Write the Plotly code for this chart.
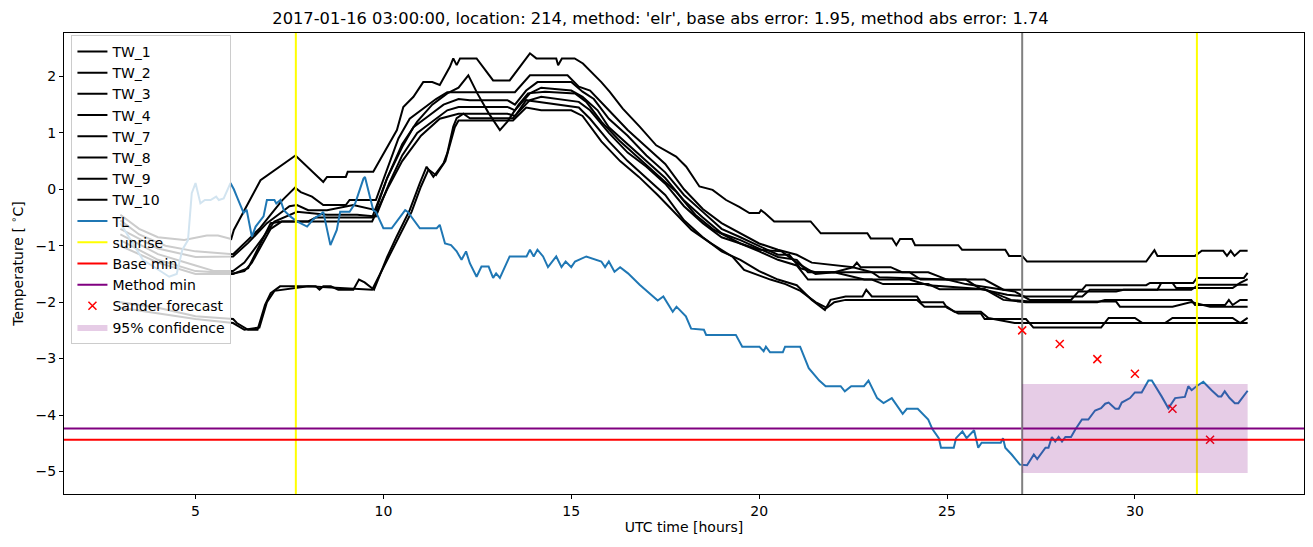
import plotly.graph_objects as go

# ---------------- data ----------------
TW_1 = [(3.0,-0.45),(3.5,-0.7),(4.0,-0.85),(4.7,-0.9),(5.3,-0.82),(5.6,-0.82),(5.95,-0.88),(6.02,-0.72),
        (6.73,0.16),(7.35,0.46),(7.66,0.6),(8.4,0.13),(8.5,0.22),(9.0,0.22),(9.05,0.31),(9.73,0.31),
        (10.36,1.05),(10.53,1.46),(10.8,1.64),(11.06,1.90),(11.3,1.90),(11.5,1.85),(11.77,2.17),(11.86,2.32),
        (11.95,2.2),(12.04,2.32),(12.48,2.32),(12.92,1.93),(13.36,1.93),(13.9,2.41),(14.07,2.32),(14.6,2.32),
        (14.65,2.2),(14.75,2.32),(15.09,2.32),(15.31,2.23),(15.8,1.90),(16.02,1.73),(16.37,1.43),(16.82,1.11),
        (17.26,0.78),(17.79,0.58),(18.06,0.40),(18.41,0.05),(18.76,-0.01),(19.12,-0.19),(19.47,-0.31),
        (19.74,-0.42),(20.0,-0.42),(20.05,-0.37),(20.15,-0.42),(20.4,-0.57),(21.37,-0.57),(21.64,-0.78),
        (22.88,-0.78),(22.97,-0.87),(23.54,-0.87),(23.65,-0.99),(23.75,-0.88),(24.07,-0.88),(24.15,-0.99),
        (25.3,-0.99),(25.4,-1.07),(26.55,-1.07),(26.65,-1.18),(27.0,-1.18),(27.13,-1.28),(30.3,-1.28),
        (30.45,-1.13),(30.52,-1.08),(30.6,-1.18),(31.6,-1.18),(31.78,-1.09),(32.35,-1.09),(32.45,-1.18),
        (32.55,-1.09),(32.65,-1.18),(32.8,-1.09),(33.0,-1.09)]
TW_2 = [(3.0,-0.55),(3.5,-0.8),(4.2,-1.0),(5.0,-1.1),(6.0,-1.15),(6.3,-0.95),(6.7,-0.7),(7.0,-0.45),
        (7.3,-0.2),(7.65,0.03),(7.8,-0.05),(8.1,-0.13),(8.4,-0.28),(9.0,-0.28),(9.1,-0.19),(9.8,-0.19),
        (10.1,0.35),(10.4,0.9),(10.7,1.25),(11.0,1.4),(11.4,1.6),(11.7,1.72),(13.5,1.72),(13.9,2.02),
        (14.9,2.02),(15.2,1.82),(15.5,1.75),(16.0,1.4),(16.5,1.05),(17.0,0.75),(17.5,0.45),(18.0,0.0),
        (18.5,-0.35),(19.0,-0.6),(19.5,-0.78),(20.0,-0.96),(20.5,-1.07),(21.0,-1.16),(21.4,-1.3),
        (22.5,-1.38),(22.6,-1.3),(22.7,-1.38),(23.5,-1.38),(23.8,-1.47),(24.5,-1.47),(25.0,-1.6),
        (26.0,-1.6),(26.5,-1.78),(28.6,-1.78),(28.7,-1.7),(30.3,-1.7),(30.4,-1.66),(31.55,-1.66),
        (31.65,-1.57),(32.9,-1.57),(33.0,-1.48)]
TW_3 = [(3.0,-0.7),(4.0,-1.05),(5.0,-1.2),(6.0,-1.19),(6.4,-0.95),(6.9,-0.6),(7.2,-0.45),(7.5,-0.3),
        (7.7,-0.28),(8.0,-0.37),(8.5,-0.37),(9.2,-0.28),(9.8,-0.37),(10.1,0.2),(10.5,0.75),(10.8,1.1),
        (11.2,1.3),(11.6,1.5),(12.0,1.6),(12.3,1.58),(13.3,1.58),(13.5,1.5),(13.8,1.75),(14.1,1.9),
        (15.0,1.9),(15.3,1.73),(15.6,1.6),(16.0,1.25),(16.5,0.95),(17.0,0.6),(17.5,0.3),(18.0,-0.1),
        (18.5,-0.4),(19.0,-0.7),(19.5,-0.85),(20.0,-1.0),(20.5,-1.16),(20.8,-1.16),(21.1,-1.4),
        (21.5,-1.47),(22.0,-1.47),(22.5,-1.38),(23.0,-1.47),(24.0,-1.47),(24.3,-1.6),(25.5,-1.6),
        (25.9,-1.77),(26.6,-1.87),(27.1,-1.9),(28.6,-1.9),(28.8,-1.78),(30.6,-1.78),(30.7,-1.66),
        (31.0,-1.66),(31.1,-1.75),(32.6,-1.75),(32.8,-1.66),(33.0,-1.59)]
TW_4 = [(3.0,-0.8),(4.0,-1.15),(5.0,-1.35),(5.5,-1.45),(6.0,-1.45),(6.3,-1.3),(6.8,-0.85),(7.1,-0.57),
        (7.7,-0.4),(8.5,-0.45),(9.3,-0.45),(9.8,-0.48),(10.15,0.1),(10.5,0.6),(10.9,1.0),(11.3,1.2),
        (11.7,1.4),(12.0,1.46),(13.3,1.46),(13.5,1.4),(13.9,1.7),(14.2,1.8),(15.0,1.75),(15.3,1.64),
        (15.7,1.4),(16.0,1.1),(16.5,0.8),(17.0,0.5),(17.5,0.2),(18.0,-0.2),(18.5,-0.5),(19.0,-0.78),
        (19.5,-0.9),(20.0,-1.05),(20.5,-1.2),(21.0,-1.25),(21.3,-1.47),(23.0,-1.47),(23.2,-1.56),
        (25.0,-1.6),(25.5,-1.68),(26.8,-1.81),(27.2,-1.96),(28.3,-1.96),(28.5,-1.81),(29.5,-1.81),
        (29.7,-1.78),(31.5,-1.78),(31.7,-1.69),(33.0,-1.69)]
TW_7 = [(3.0,-0.9),(4.0,-1.25),(5.0,-1.45),(6.0,-1.49),(6.3,-1.45),(6.5,-1.3),(7.0,-0.7),(7.3,-0.57),
        (9.7,-0.57),(10.1,0.0),(10.5,0.5),(11.0,0.95),(11.5,1.25),(12.0,1.34),(13.3,1.34),(13.5,1.3),
        (13.9,1.58),(14.2,1.64),(15.2,1.55),(15.5,1.4),(16.0,1.0),(16.5,0.65),(17.0,0.4),(17.5,0.1),
        (18.0,-0.3),(18.5,-0.6),(19.0,-0.85),(19.5,-0.96),(20.0,-1.1),(20.5,-1.25),(21.0,-1.35),
        (21.3,-1.6),(23.0,-1.6),(23.3,-1.68),(24.5,-1.68),(24.8,-1.77),(26.0,-1.77),(26.5,-1.96),
        (27.1,-2.0),(29.0,-2.0),(29.2,-1.96),(31.5,-1.96),(31.6,-2.05),(32.4,-2.05),(32.5,-1.96),
        (32.6,-2.05),(32.8,-1.96),(33.0,-1.96)]
TW_8 = [(3.0,-1.0),(4.0,-1.3),(5.0,-1.5),(6.0,-1.5),(6.4,-1.4),(6.7,-1.0),(7.0,-0.6),(7.3,-0.57),
        (8.0,-0.57),(8.2,-0.5),(9.7,-0.5),(10.1,0.2),(10.5,0.8),(10.9,1.2),(11.3,1.5),(11.7,1.7),
        (12.0,1.8),(12.26,2.02),(12.5,1.7),(12.8,1.35),(13.1,1.05),(13.3,1.2),(13.6,1.5),(13.85,1.7),
        (14.3,1.73),(15.1,1.7),(15.4,1.55),(15.8,1.2),(16.3,0.85),(16.8,0.55),(17.3,0.25),(17.8,-0.05),
        (18.3,-0.45),(18.8,-0.72),(19.5,-0.96),(20.0,-1.07),(20.6,-1.1),(21.0,-1.3),(21.5,-1.5),
        (22.0,-1.47),(22.8,-1.6),(24.0,-1.6),(24.5,-1.7),(26.0,-1.77),(26.7,-1.96),(27.2,-1.99),
        (29.5,-1.99),(29.6,-2.08),(31.0,-2.08),(31.5,-2.0),(32.0,-2.08),(33.0,-2.08)]
TW_9 = [(3.0,-2.0),(4.0,-2.1),(5.0,-2.25),(6.0,-2.3),(6.1,-2.37),(6.4,-2.49),(6.65,-2.49),(6.85,-2.05),
        (7.0,-1.84),(7.25,-1.72),(8.2,-1.72),(8.3,-1.78),(8.4,-1.72),(8.6,-1.72),(8.8,-1.78),(9.2,-1.78),
        (9.35,-1.6),(9.5,-1.65),(9.75,-1.78),(10.1,-1.2),(10.35,-0.84),(10.7,-0.37),(10.97,0.11),
        (11.15,0.4),(11.33,0.22),(11.6,0.46),(11.7,0.64),(11.86,1.11),(11.95,1.26),(12.13,1.34),
        (12.3,1.26),(13.45,1.26),(13.55,1.34),(13.8,1.58),(14.1,1.55),(15.2,1.45),(15.5,1.25),(16.0,0.85),
        (16.5,0.5),(17.0,0.2),(17.5,-0.1),(18.0,-0.55),(18.5,-0.85),(19.0,-1.1),(19.5,-1.25),(20.0,-1.45),
        (20.5,-1.6),(21.0,-1.7),(21.4,-1.96),(21.75,-2.14),(21.9,-1.96),(22.3,-1.9),(22.75,-1.9),
        (22.85,-1.78),(23.0,-1.9),(24.2,-1.9),(24.3,-2.0),(24.9,-2.0),(25.0,-2.1),(25.3,-2.2),(25.9,-2.2),
        (26.0,-2.3),(27.1,-2.3),(27.3,-2.45),(29.1,-2.45),(29.3,-2.28),(30.0,-2.28),(30.2,-2.37),
        (30.8,-2.37),(31.0,-2.28),(32.6,-2.28),(32.8,-2.37),(33.0,-2.28)]
TW_10 = [(3.0,-2.1),(4.0,-2.2),(5.0,-2.3),(6.0,-2.37),(6.3,-2.49),(6.7,-2.45),(6.9,-2.0),(7.1,-1.8),
         (7.3,-1.78),(8.0,-1.72),(9.7,-1.78),(10.1,-1.25),(10.4,-0.84),(10.75,-0.4),(11.0,0.05),(11.2,0.35),
         (11.4,0.25),(11.65,0.5),(11.9,1.1),(12.0,1.22),(13.45,1.22),(13.8,1.45),(14.2,1.4),(15.0,1.4),
         (15.3,1.3),(15.8,0.85),(16.3,0.5),(16.8,0.22),(17.3,-0.1),(17.8,-0.45),(18.2,-0.72),(18.7,-0.95),
         (19.3,-1.2),(19.6,-1.43),(20.3,-1.6),(20.7,-1.68),(21.1,-1.8),(21.5,-2.0),(21.8,-2.1),(22.0,-2.0),
         (22.3,-1.96),(24.2,-1.96),(24.4,-2.08),(25.0,-2.08),(25.2,-2.17),(25.9,-2.17),(26.1,-2.28),
         (26.8,-2.37),(33.0,-2.37)]
TL = [(3.0,-0.6),(3.6,-1.25),(4.3,-1.55),(4.5,-1.5),(4.65,-1.07),(4.8,-0.9),(4.9,-0.07),(5.0,0.11),
      (5.13,-0.25),(5.25,-0.19),(5.4,-0.19),(5.55,-0.13),(5.62,-0.19),(5.75,-0.16),(5.93,0.11),(6.02,0.0),
      (6.1,-0.13),(6.28,-0.42),(6.36,-0.36),(6.5,-0.84),(6.6,-0.66),(6.81,-0.48),(6.9,-0.19),(7.1,-0.19),
      (7.15,-0.25),(7.26,-0.19),(7.35,-0.37),(7.52,-0.48),(7.7,-0.57),(7.97,-0.66),(8.15,-0.52),
      (8.32,-0.45),(8.4,-0.4),(8.59,-0.99),(8.76,-0.72),(8.85,-0.40),(9.1,-0.40),(9.25,-0.25),(9.47,0.19),
      (9.51,0.22),(9.73,-0.37),(9.8,-0.40),(10.0,-0.69),(10.22,-0.69),(10.58,-0.37),(10.65,-0.40),
      (10.97,-0.69),(11.42,-0.69),(11.5,-0.63),(11.64,-0.96),(11.8,-0.99),(11.95,-1.10),(12.08,-1.25),
      (12.2,-1.1),(12.3,-1.31),(12.48,-1.55),(12.61,-1.37),(12.8,-1.37),(12.92,-1.57),(13.0,-1.49),
      (13.1,-1.57),(13.36,-1.19),(13.81,-1.19),(13.9,-1.07),(14.0,-1.19),(14.1,-1.07),(14.25,-1.19),
      (14.38,-1.38),(14.6,-1.19),(14.74,-1.38),(14.85,-1.28),(15.0,-1.38),(15.1,-1.28),(15.4,-1.19),
      (15.8,-1.28),(15.9,-1.38),(16.0,-1.28),(16.15,-1.46),(16.3,-1.38),(16.51,-1.49),(16.82,-1.69),
      (17.17,-1.90),(17.3,-1.97),(17.45,-1.90),(17.7,-2.17),(17.8,-2.08),(18.05,-2.25),(18.19,-2.47),
      (18.53,-2.49),(18.59,-2.58),(19.38,-2.58),(19.55,-2.79),(20.01,-2.79),(20.12,-2.87),(20.18,-2.79),
      (20.29,-2.89),(20.63,-2.89),(20.69,-2.79),(21.09,-2.79),(21.32,-3.17),(21.6,-3.39),(21.77,-3.49),
      (22.17,-3.49),(22.28,-3.58),(22.45,-3.49),(22.79,-3.49),(22.91,-3.39),(23.14,-3.70),(23.31,-3.79),
      (23.53,-3.70),(23.82,-3.98),(23.93,-3.89),(24.22,-3.89),(24.5,-4.08),(24.61,-4.25),(24.78,-4.41),
      (24.84,-4.58),(25.18,-4.58),(25.24,-4.41),(25.41,-4.29),(25.52,-4.41),(25.72,-4.27),(25.83,-4.58),
      (25.92,-4.49),(26.43,-4.49),(26.49,-4.41),(26.55,-4.58),(26.72,-4.70),(26.94,-4.88),(27.13,-4.89),
      (27.31,-4.70),(27.4,-4.78),(27.62,-4.58),(27.7,-4.58),(27.79,-4.39),(27.88,-4.47),(27.97,-4.39),
      (28.06,-4.47),(28.15,-4.39),(28.3,-4.39),(28.41,-4.26),(28.59,-4.08),(28.76,-4.08),(28.94,-3.92),
      (29.1,-3.88),(29.21,-3.80),(29.3,-3.78),(29.48,-3.89),(29.57,-3.89),(29.65,-3.78),(29.87,-3.70),
      (30.0,-3.60),(30.18,-3.60),(30.36,-3.39),(30.45,-3.39),(30.71,-3.67),(30.89,-3.88),(31.07,-3.70),
      (31.33,-3.68),(31.42,-3.49),(31.51,-3.56),(31.64,-3.49),(31.82,-3.41),(32.04,-3.56),(32.22,-3.67),
      (32.3,-3.67),(32.39,-3.58),(32.52,-3.70),(32.66,-3.79),(32.75,-3.79),(33.0,-3.57)]

tw_series = {"TW_1": TW_1, "TW_2": TW_2, "TW_3": TW_3, "TW_4": TW_4,
             "TW_7": TW_7, "TW_8": TW_8, "TW_9": TW_9, "TW_10": TW_10}

sunrise_hours = [7.67, 31.65]
forecast_start = 27.0
base_min = -4.44
method_min = -4.24
sander_x = [27, 28, 29, 30, 31, 32]
sander_y = [-2.50, -2.74, -3.01, -3.27, -3.89, -4.44]
conf_x = [27, 33]
conf_lo = [-5.03, -5.03]
conf_hi = [-3.45, -3.45]

x_range = [1.5, 34.5]
y_range = [-5.40, 2.77]
title = ("2017-01-16 03:00:00, location: 214, method: 'elr', "
         "base abs error: 1.95, method abs error: 1.74")

# ---------------- figure ----------------
fig = go.Figure()
LW = 2
for name, pts in tw_series.items():
    fig.add_trace(go.Scatter(x=[p[0] for p in pts], y=[p[1] for p in pts], mode="lines",
                             name=name, line=dict(color="black", width=LW)))
fig.add_trace(go.Scatter(x=[p[0] for p in TL], y=[p[1] for p in TL], mode="lines",
                         name="TL", line=dict(color="#1f77b4", width=LW)))

for i, s in enumerate(sunrise_hours):
    fig.add_trace(go.Scatter(x=[s, s], y=y_range, mode="lines", name="sunrise",
                             line=dict(color="yellow", width=LW), showlegend=(i == 0),
                             legendgroup="sunrise"))
fig.add_trace(go.Scatter(x=x_range, y=[base_min, base_min], mode="lines", name="Base min",
                         line=dict(color="red", width=LW)))
fig.add_trace(go.Scatter(x=x_range, y=[method_min, method_min], mode="lines", name="Method min",
                         line=dict(color="purple", width=LW)))
fig.add_trace(go.Scatter(x=[forecast_start, forecast_start], y=y_range, mode="lines",
                         line=dict(color="gray", width=LW), showlegend=False))
fig.add_trace(go.Scatter(x=sander_x, y=sander_y, mode="markers", name="Sander forecast",
                         marker=dict(symbol="x-thin", size=8, color="red",
                                     line=dict(color="red", width=1.5))))
fig.add_trace(go.Scatter(x=conf_x + conf_x[::-1], y=conf_hi + conf_lo[::-1], mode="lines",
                         fill="toself", fillcolor="rgba(128,0,128,0.2)", line=dict(width=0),
                         name="95% confidence"))

axis_common = dict(showline=True, mirror=True, linecolor="black", linewidth=1,
                   ticks="outside", ticklen=4, tickcolor="black", showgrid=False,
                   zeroline=False, automargin=False, tickfont=dict(size=14, color="black"))
fig.update_xaxes(range=x_range, tickvals=[5, 10, 15, 20, 25, 30],
                 title=dict(text="UTC time [hours]", font=dict(size=14, color="black"), standoff=4),
                 **axis_common)
fig.update_yaxes(range=y_range, tickvals=[-5, -4, -3, -2, -1, 0, 1, 2],
                 title=dict(text="Temperature [ <sup>∘</sup>C]", font=dict(size=14, color="black"),
                            standoff=16),
                 **axis_common)

# page body has an 8px default margin: figure size/margins compensate for it
W, H = 1305, 531
fig.update_layout(
    width=W, height=H,
    margin=dict(l=56, r=9, t=25, b=45),
    paper_bgcolor="white", plot_bgcolor="white",
    font=dict(family="DejaVu Sans", color="black"),
    title=dict(text=title, x=0.5, xanchor="center", y=1 - 10 / H, yanchor="middle",
               font=dict(size=16.3, color="black")),
    legend=dict(x=0.006, y=0.996, xanchor="left", yanchor="top",
                bgcolor="rgba(255,255,255,0.8)", bordercolor="#cccccc", borderwidth=1,
                font=dict(size=14, color="black"), itemwidth=30, tracegroupgap=0),
)

fig.write_html("out.html")
